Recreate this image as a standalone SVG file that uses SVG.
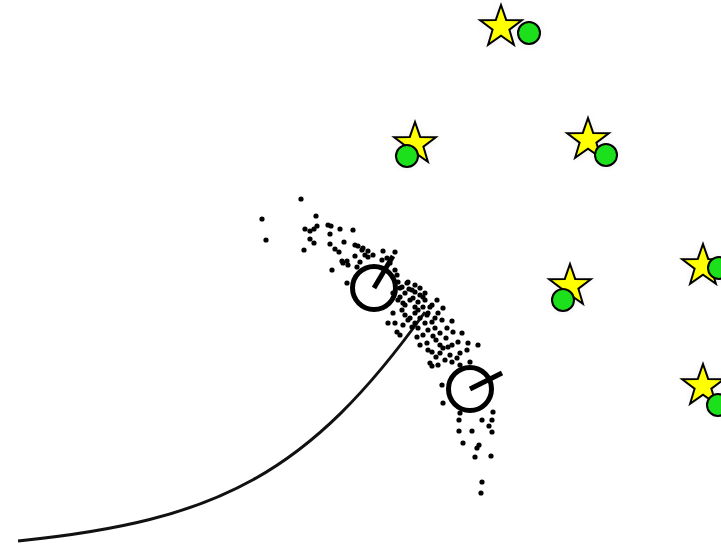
<svg xmlns="http://www.w3.org/2000/svg" width="721" height="544" viewBox="0 0 721 544">
<style>
.star{fill:#ffff00;stroke:#000;stroke-width:2;stroke-linejoin:miter}
.lm{fill:#1ee01e;stroke:#000;stroke-width:2}
.robot{fill:none;stroke:#000;stroke-width:5}
.head{stroke:#000;stroke-width:5;stroke-linecap:butt}
.track{fill:none;stroke:#111;stroke-width:3}
.p circle{fill:#000;r:2.6px}
</style>
<defs>
<path id="starShape" d="M0,-22 L5.2,-7.1 L20.9,-6.8 L8.4,2.7 L12.9,17.8 L0,8.8 L-12.9,17.8 L-8.4,2.7 L-20.9,-6.8 L-5.2,-7.1 Z"/>
<filter id="glow" x="-50%" y="-50%" width="200%" height="200%">
<feGaussianBlur in="SourceAlpha" stdDeviation="3" result="b"/>
<feFlood flood-color="#000" flood-opacity="0.06"/>
<feComposite operator="in" in2="b" result="s"/>
<feMerge><feMergeNode in="s"/><feMergeNode in="SourceGraphic"/></feMerge>
</filter>
</defs>
<rect width="721" height="544" fill="#fff"/>

<g id="track">
<path class="track" d="M18,541 C218,521 309,474 425,312"/>
</g>

<g id="particles" class="p">
<circle cx="301" cy="199" r="2.6"/><circle cx="262" cy="219" r="2.6"/><circle cx="266" cy="240" r="2.6"/>
<circle cx="316" cy="216" r="2.6"/><circle cx="305" cy="229" r="2.6"/><circle cx="310" cy="231" r="2.6"/>
<circle cx="317" cy="226" r="2.6"/><circle cx="314" cy="229" r="2.6"/><circle cx="328" cy="225" r="2.6"/>
<circle cx="331" cy="226" r="2.6"/><circle cx="340" cy="229" r="2.6"/><circle cx="330" cy="234" r="2.6"/>
<circle cx="310" cy="239" r="2.6"/><circle cx="314" cy="243" r="2.6"/><circle cx="304" cy="250" r="2.6"/>
<circle cx="330" cy="244" r="2.6"/><circle cx="335" cy="249" r="2.6"/><circle cx="339" cy="252" r="2.6"/>
<circle cx="344" cy="242" r="2.6"/><circle cx="342" cy="261" r="2.6"/><circle cx="348" cy="265" r="2.6"/>
<circle cx="332" cy="270" r="2.6"/><circle cx="353" cy="230" r="2.6"/><circle cx="358" cy="246" r="2.6"/>
<circle cx="363" cy="248" r="2.6"/><circle cx="368" cy="251" r="2.6"/><circle cx="365" cy="255" r="2.6"/>
<circle cx="373" cy="255" r="2.6"/><circle cx="383" cy="251" r="2.6"/><circle cx="395" cy="252" r="2.6"/>
<circle cx="387" cy="258" r="2.6"/><circle cx="382" cy="260" r="2.6"/><circle cx="355" cy="245" r="2.6"/>
<circle cx="362" cy="250" r="2.6"/><circle cx="355" cy="256" r="2.6"/><circle cx="368" cy="257" r="2.6"/>
<circle cx="347" cy="261" r="2.6"/><circle cx="343" cy="263" r="2.6"/><circle cx="360" cy="262" r="2.6"/>
<circle cx="390" cy="263" r="2.6"/><circle cx="357" cy="267" r="2.6"/><circle cx="395" cy="270" r="2.6"/>
<circle cx="397" cy="275" r="2.6"/><circle cx="347" cy="283" r="2.6"/><circle cx="400" cy="288" r="2.6"/>
<circle cx="408" cy="282" r="2.6"/><circle cx="415" cy="285" r="2.6"/><circle cx="405" cy="293" r="2.6"/>
<circle cx="415" cy="292" r="2.6"/><circle cx="420" cy="295" r="2.6"/><circle cx="425" cy="293" r="2.6"/>
<circle cx="410" cy="300" r="2.6"/><circle cx="418" cy="302" r="2.6"/><circle cx="425" cy="300" r="2.6"/>
<circle cx="430" cy="307" r="2.6"/><circle cx="405" cy="305" r="2.6"/><circle cx="415" cy="307" r="2.6"/>
<circle cx="423" cy="307" r="2.6"/><circle cx="393" cy="293" r="2.6"/><circle cx="403" cy="303" r="2.6"/>
<circle cx="413" cy="298" r="2.6"/><circle cx="432" cy="305" r="2.6"/><circle cx="443" cy="308" r="2.6"/>
<circle cx="393" cy="313" r="2.6"/><circle cx="405" cy="315" r="2.6"/><circle cx="415" cy="313" r="2.6"/>
<circle cx="427" cy="315" r="2.6"/><circle cx="438" cy="313" r="2.6"/><circle cx="442" cy="320" r="2.6"/>
<circle cx="452" cy="321" r="2.6"/><circle cx="395" cy="323" r="2.6"/><circle cx="403" cy="325" r="2.6"/>
<circle cx="415" cy="323" r="2.6"/><circle cx="425" cy="323" r="2.6"/><circle cx="432" cy="322" r="2.6"/>
<circle cx="397" cy="332" r="2.6"/><circle cx="400" cy="335" r="2.6"/><circle cx="418" cy="328" r="2.6"/>
<circle cx="428" cy="330" r="2.6"/><circle cx="440" cy="333" r="2.6"/><circle cx="453" cy="332" r="2.6"/>
<circle cx="462" cy="333" r="2.6"/><circle cx="417" cy="337" r="2.6"/><circle cx="423" cy="335" r="2.6"/>
<circle cx="458" cy="342" r="2.6"/><circle cx="468" cy="343" r="2.6"/><circle cx="478" cy="345" r="2.6"/>
<circle cx="427" cy="343" r="2.6"/><circle cx="428" cy="350" r="2.6"/><circle cx="432" cy="352" r="2.6"/>
<circle cx="440" cy="345" r="2.6"/><circle cx="443" cy="348" r="2.6"/><circle cx="448" cy="347" r="2.6"/>
<circle cx="440" cy="353" r="2.6"/><circle cx="450" cy="355" r="2.6"/><circle cx="460" cy="353" r="2.6"/>
<circle cx="467" cy="350" r="2.6"/><circle cx="445" cy="360" r="2.6"/><circle cx="452" cy="362" r="2.6"/>
<circle cx="457" cy="358" r="2.6"/><circle cx="430" cy="363" r="2.6"/><circle cx="438" cy="365" r="2.6"/>
<circle cx="460" cy="365" r="2.6"/><circle cx="470" cy="362" r="2.6"/><circle cx="432" cy="366" r="2.6"/>
<circle cx="442" cy="385" r="2.6"/><circle cx="443" cy="403" r="2.6"/><circle cx="460" cy="413" r="2.6"/>
<circle cx="493" cy="412" r="2.6"/><circle cx="459" cy="420" r="2.6"/><circle cx="482" cy="420" r="2.6"/>
<circle cx="492" cy="420" r="2.6"/><circle cx="489" cy="426" r="2.6"/><circle cx="492" cy="432" r="2.6"/>
<circle cx="459" cy="431" r="2.6"/><circle cx="472" cy="431" r="2.6"/><circle cx="463" cy="443" r="2.6"/>
<circle cx="479" cy="445" r="2.6"/><circle cx="477" cy="448" r="2.6"/><circle cx="475" cy="457" r="2.6"/>
<circle cx="491" cy="456" r="2.6"/><circle cx="482" cy="482" r="2.6"/><circle cx="481" cy="493" r="2.6"/>
<circle cx="412" cy="290" r="2.6"/><circle cx="402" cy="287" r="2.6"/><circle cx="407" cy="283" r="2.6"/>
<circle cx="400" cy="297" r="2.6"/><circle cx="423" cy="297" r="2.6"/><circle cx="428" cy="313" r="2.6"/>
<circle cx="410" cy="318" r="2.6"/><circle cx="402" cy="310" r="2.6"/><circle cx="388" cy="323" r="2.6"/>
<circle cx="408" cy="320" r="2.6"/><circle cx="420" cy="318" r="2.6"/><circle cx="435" cy="328" r="2.6"/>
<circle cx="446" cy="338" r="2.6"/><circle cx="436" cy="340" r="2.6"/><circle cx="420" cy="345" r="2.6"/>
<circle cx="398" cy="282" r="2.6"/><circle cx="409" cy="289" r="2.6"/><circle cx="418" cy="310" r="2.6"/>
<circle cx="412" cy="327" r="2.6"/><circle cx="435" cy="318" r="2.6"/><circle cx="447" cy="328" r="2.6"/>
<circle cx="433" cy="336" r="2.6"/><circle cx="452" cy="345" r="2.6"/><circle cx="436" cy="357" r="2.6"/>
<circle cx="398" cy="300" r="2.6"/><circle cx="420" cy="288" r="2.6"/><circle cx="437" cy="300" r="2.6"/>
</g>

<g id="robot1">
<circle class="robot" cx="374" cy="288" r="21.5"/>
<line class="head" x1="374" y1="288" x2="393" y2="256"/>
</g>
<g id="robot2">
<circle class="robot" cx="470" cy="389" r="21.5"/>
<line class="head" x1="470" y1="389" x2="502" y2="373"/>
</g>

<g id="landmark1" filter="url(#glow)">
<use href="#starShape" class="star" x="501" y="27"/>
<circle class="lm" cx="529" cy="33" r="11"/>
</g>
<g id="landmark2" filter="url(#glow)">
<use href="#starShape" class="star" x="415" y="144"/>
<circle class="lm" cx="407" cy="156" r="11"/>
</g>
<g id="landmark3" filter="url(#glow)">
<use href="#starShape" class="star" x="588" y="140"/>
<circle class="lm" cx="606" cy="155" r="11"/>
</g>
<g id="landmark4" filter="url(#glow)">
<use href="#starShape" class="star" x="570" y="286"/>
<circle class="lm" cx="563" cy="300" r="11"/>
</g>
<g id="landmark5" filter="url(#glow)">
<use href="#starShape" class="star" x="703" y="266"/>
<circle class="lm" cx="719" cy="268" r="11"/>
</g>
<g id="landmark6" filter="url(#glow)">
<use href="#starShape" class="star" x="703" y="386"/>
<circle class="lm" cx="718" cy="405" r="11"/>
</g>
</svg>
